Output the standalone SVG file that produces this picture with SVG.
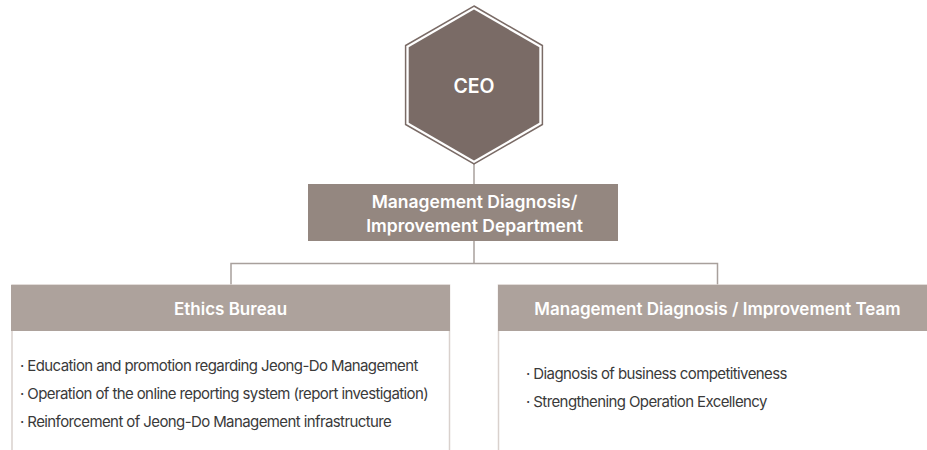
<svg xmlns="http://www.w3.org/2000/svg" width="927" height="450" viewBox="0 0 927 450">
<style>
.t{font-family:Inter,"Noto Sans","Liberation Sans",sans-serif;}
.w{fill:#ffffff;font-weight:600;text-anchor:middle;}
.b{fill:#3a3a3a;font-size:15px;letter-spacing:-0.6px;}
.conn{stroke:#a8a09c;stroke-width:1.5;fill:none;}
.frame{stroke:#d9d1cd;stroke-width:1.5;fill:#ffffff;}
.hdr{fill:#ada29c;}
</style>
<rect width="927" height="450" fill="#ffffff"/>
<g id="connectors">
<line class="conn" x1="474" y1="164" x2="474" y2="184"/>
<line class="conn" x1="474" y1="241" x2="474" y2="263.5"/>
<polyline class="conn" points="231,285 231,263.5 717.5,263.5 717.5,285"/>
</g>
<g id="ceo">
<polygon points="474,6 542.4,45.5 542.4,124.5 474,164 405.6,124.5 405.6,45.5" fill="none" stroke="#7a6b66" stroke-width="1.5"/>
<polygon points="474,9.5 539.3,47.3 539.3,122.7 474,160.5 408.7,122.7 408.7,47.3" fill="#7a6b66"/>
<text class="t w" x="474" y="93" font-size="19.5">CEO</text>
</g>
<g id="dept">
<rect x="308" y="184" width="310" height="57" fill="#948780"/>
<text class="t w" x="474.5" y="208.3" font-size="17.5">Management Diagnosis/</text>
<text class="t w" x="474.5" y="232.3" font-size="17.5">Improvement Department</text>
</g>
<g id="ethics">
<rect class="frame" x="12" y="285" width="437.5" height="180"/>
<rect class="hdr" x="11" y="285" width="439" height="46"/>
<text class="t w" x="230.5" y="314.7" font-size="17">Ethics Bureau</text>
<text class="t b" x="20" y="370.7">· Education and promotion regarding Jeong-Do Management</text>
<text class="t b" x="20" y="398.7">· Operation of the online reporting system (report investigation)</text>
<text class="t b" x="20" y="426.7">· Reinforcement of Jeong-Do Management infrastructure</text>
</g>
<g id="team">
<rect class="frame" x="498.5" y="285" width="437.5" height="180"/>
<rect class="hdr" x="498" y="285" width="439" height="46"/>
<text class="t w" x="717.5" y="314.7" font-size="17">Management Diagnosis / Improvement Team</text>
<text class="t b" x="526" y="378.7">· Diagnosis of business competitiveness</text>
<text class="t b" x="526" y="407">· Strengthening Operation Excellency</text>
</g>
</svg>
